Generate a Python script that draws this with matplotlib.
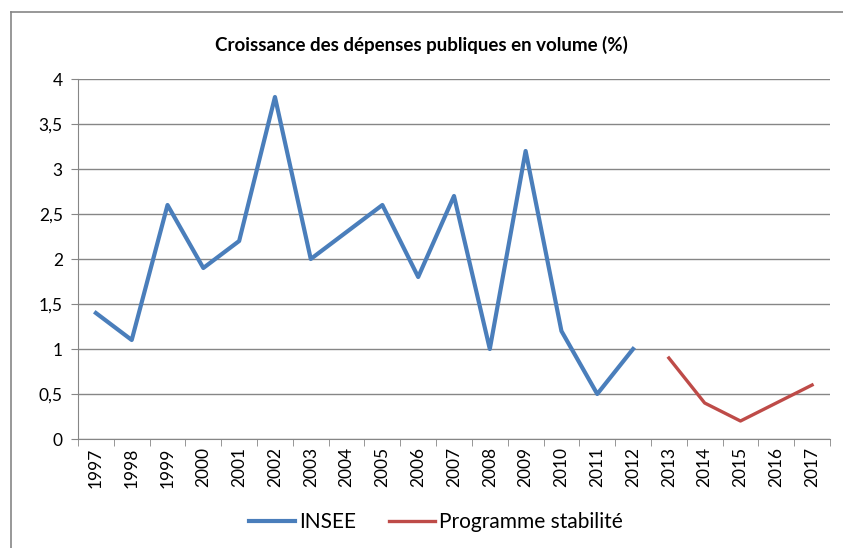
import matplotlib.pyplot as plt
import numpy as np
from matplotlib.ticker import FuncFormatter, FixedLocator
from matplotlib.lines import Line2D

years = [str(y) for y in range(1997, 2018)]
insee = [1.4, 1.1, 2.6, 1.9, 2.2, 3.8, 2.0, 2.3, 2.6, 1.8, 2.7, 1.0, 3.2, 1.2, 0.5, 1.0]
programme = [0.9, 0.4, 0.2, 0.4, 0.6]

plt.rcParams['font.family'] = ['Lato', 'DejaVu Sans']

W, H = 843, 548
fig = plt.figure(figsize=(W / 100, H / 100), dpi=100)
ax = fig.add_axes([78 / W, 1 - 439 / H, (830 - 78) / W, (439 - 79) / H])

x = np.arange(len(years))
ax.plot(x[:len(insee)], insee, color='#4A7EBB', lw=3, label='INSEE')
ax.plot(x[len(insee):], programme, color='#BE4B48', lw=2.4, label='Programme stabilité')

ax.set_xlim(-0.5, len(years) - 0.5)
ax.set_ylim(0, 4)
ax.set_yticks(np.arange(0, 4.01, 0.5))
ax.yaxis.set_major_formatter(FuncFormatter(lambda v, p: ('%g' % v).replace('.', ',')))
ax.grid(axis='y', color='#868686', lw=1)
ax.set_axisbelow(True)

ax.set_xticks(x)
ax.set_xticklabels(years, rotation=90, fontsize=12.5)
ax.xaxis.set_minor_locator(FixedLocator(np.arange(-0.5, len(years), 1)))
ax.tick_params(axis='x', which='major', length=0, pad=6)
ax.tick_params(axis='x', which='minor', length=5, color='#868686')
ax.tick_params(axis='y', length=5, color='#868686', labelsize=12.5, pad=6)

for s in ['top', 'right']:
    ax.spines[s].set_visible(False)
ax.spines['left'].set_color('#868686')
ax.spines['bottom'].set_color('#868686')

fig.text(0.5, 1 - 45 / H, 'Croissance des dépenses publiques en volume (%)',
         ha='center', va='center', fontsize=13.5, weight='bold')

fig.legend(loc='center', bbox_to_anchor=(436 / W, 1 - 522 / H), ncol=2, frameon=False,
           fontsize=15, handlelength=2.2, handletextpad=0.2, columnspacing=1.6)

# outer chart frame (left and top edges only visible)
fig.add_artist(Line2D([11 / W, 11 / W], [0, 1 - 12 / H], transform=fig.transFigure,
                      color='#868686', lw=1.2))
fig.add_artist(Line2D([11 / W, 1], [1 - 12 / H, 1 - 12 / H], transform=fig.transFigure,
                      color='#868686', lw=1.2))

fig.savefig('out.png', dpi=100)
